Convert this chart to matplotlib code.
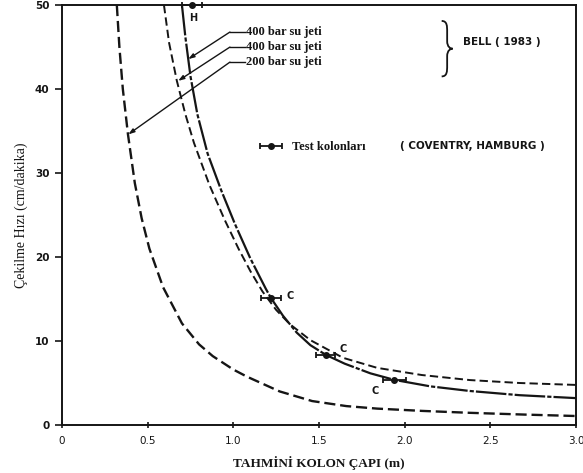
import matplotlib
matplotlib.use("Agg")
import matplotlib.pyplot as plt
from matplotlib.path import Path
from matplotlib.patches import PathPatch

plt.rcParams['lines.scale_dashes'] = False

# ---- data ----
# 400 bar su jeti (solid / dash-dot curve, through the test columns)
c1_x = [0.70, 0.72, 0.75, 0.79, 0.85, 0.93, 1.01, 1.10, 1.19, 1.22, 1.29, 1.37,
        1.45, 1.54, 1.65, 1.80, 1.94, 2.15, 2.38, 2.67, 3.00]
c1_y = [50.0, 46.2, 41.5, 37.0, 32.3, 27.9, 23.9, 19.8, 16.2, 15.1, 13.0, 11.0,
        9.5, 8.35, 7.3, 6.15, 5.37, 4.6, 4.05, 3.55, 3.2]
# 400 bar su jeti (dashed curve)
c2_x = [0.595, 0.625, 0.67, 0.72, 0.77, 0.86, 0.95, 1.03, 1.10, 1.17, 1.25, 1.33,
        1.45, 1.64, 1.84, 2.10, 2.38, 2.67, 3.00]
c2_y = [50.0, 45.5, 41.0, 37.0, 33.6, 28.6, 24.4, 21.0, 18.3, 15.9, 13.7, 12.0,
        10.1, 8.0, 6.8, 5.95, 5.35, 5.0, 4.77]
# 200 bar su jeti (long dashed curve)
c3_x = [0.32, 0.335, 0.355, 0.385, 0.425, 0.465, 0.51, 0.59, 0.70, 0.80, 0.88,
        1.00, 1.08, 1.27, 1.46, 1.66, 1.84, 2.10, 2.38, 2.70, 3.00]
c3_y = [50.0, 45.0, 40.0, 34.6, 28.8, 24.6, 21.0, 16.4, 12.1, 9.6, 8.2,
        6.6, 5.75, 4.0, 2.85, 2.25, 1.95, 1.68, 1.45, 1.24, 1.07]

series_labels = ["400 bar su jeti", "400 bar su jeti", "200 bar su jeti"]

# test columns (Coventry "C", Hamburg "H")
test_x = [1.22, 1.54, 1.94]
test_y = [15.1, 8.35, 5.37]
test_xerr = [0.058, 0.055, 0.068]
test_tags = ["C", "C", "C"]
ham_x = [0.76]
ham_y = [50.0]
ham_xerr = [0.057]
ham_tags = ["H"]

xticks = [0, 0.5, 1.0, 1.5, 2.0, 2.5, 3.0]
xticklabels = ["0", "0.5", "1.0", "1.5", "2.0", "2.5", "3.0"]
yticks = [0, 10, 20, 30, 40, 50]
yticklabels = ["0", "10", "20", "30", "40", "50"]

xlabel = "TAHMİNİ KOLON ÇAPI (m)"
ylabel = "Çekilme Hızı (cm/dakika)"
legend_text = "Test kolonları"
source_text = "( COVENTRY, HAMBURG )"
bell_text = "BELL ( 1983 )"

# ---- figure ----
fig = plt.figure(figsize=(5.83, 4.73), dpi=100)
ax = fig.add_axes([62/583, 48/473, 514/583, 420/473])
ax.set_xlim(0, 3.0)
ax.set_ylim(0, 50)

ink = '#151515'
serif = 'Liberation Serif'
sans = 'DejaVu Sans'

ax.plot(c1_x, c1_y, color=ink, lw=1.6, dashes=(22, 1.5, 3, 1.5))
ax.plot(c2_x, c2_y, color=ink, lw=1.4, dashes=(6, 3))
ax.plot(c3_x, c3_y, color=ink, lw=1.7, dashes=(8, 3.5))

ax.errorbar(test_x, test_y, xerr=test_xerr, fmt='o', color=ink, ms=4,
            elinewidth=1.3, capsize=2.5, capthick=1.3)
ax.errorbar(ham_x, ham_y, xerr=ham_xerr, fmt='o', color=ink, ms=4,
            elinewidth=1.3, capsize=2.5, capthick=1.3, clip_on=False)

tag_offsets = [(0.11, 0.2), (0.10, 0.75), (-0.115, -1.3)]
for x, y, t, (dx, dy) in zip(test_x, test_y, test_tags, tag_offsets):
    ax.text(x + dx, y + dy, t, fontsize=7, fontweight='bold', family=sans,
            ha='center', va='center', color=ink)
for x, y, t in zip(ham_x, ham_y, ham_tags):
    ax.text(x + 0.005, y - 1.6, t, fontsize=7, fontweight='bold', family=sans,
            ha='center', va='center', color=ink)

# series labels with leader lines
label_y = [46.78, 44.99, 43.2]
tip_x = [0.737, 0.678, 0.387]
tip_y = [43.56, 40.97, 34.6]
for lab, ly, tx, ty in zip(series_labels, label_y, tip_x, tip_y):
    ax.text(1.073, ly, lab, fontsize=9, fontweight='bold', family=serif,
            ha='left', va='center', color=ink)
    ax.plot([0.98, 1.067], [ly, ly], color=ink, lw=1.0)
    ax.annotate('', xy=(tx, ty), xytext=(0.98, ly),
                arrowprops=dict(arrowstyle='-|>,head_length=0.35,head_width=0.12',
                                color=ink, lw=1.0, shrinkA=0, shrinkB=0))

# brace
bx, btop, bbot, bw = 2.216, 48.1, 41.5, 0.064
bmid = (btop + bbot) / 2
xm = bx + bw * 0.5
verts = [(bx, btop), (xm, btop), (xm, btop - 0.6), (xm, btop - 1.3),
         (xm, bmid + 0.9),
         (xm, bmid + 0.2), (bx + bw * 0.8, bmid), (bx + bw, bmid),
         (bx + bw * 0.8, bmid), (xm, bmid - 0.2), (xm, bmid - 0.9),
         (xm, bbot + 1.3),
         (xm, bbot + 0.6), (xm, bbot), (bx, bbot)]
codes = [Path.MOVETO, Path.CURVE4, Path.CURVE4, Path.CURVE4,
         Path.LINETO,
         Path.CURVE4, Path.CURVE4, Path.CURVE4,
         Path.CURVE4, Path.CURVE4, Path.CURVE4,
         Path.LINETO,
         Path.CURVE4, Path.CURVE4, Path.CURVE4]
ax.add_patch(PathPatch(Path(verts, codes), fill=False, lw=1.3, color=ink))
ax.text(2.338, 45.6, bell_text, fontsize=7.5, fontweight='bold', family=sans,
        ha='left', va='center', color=ink)

# legend for test columns
ax.errorbar([1.22], [33.2], xerr=[0.065], fmt='o', color=ink, ms=4,
            elinewidth=1.3, capsize=2.5, capthick=1.3)
ax.text(1.34, 33.1, legend_text, fontsize=9, fontweight='bold', family=serif,
        ha='left', va='center', color=ink)
ax.text(1.97, 33.2, source_text, fontsize=7.5, fontweight='bold', family=sans,
        ha='left', va='center', color=ink)

# axes styling
for s in ax.spines.values():
    s.set_linewidth(1.4)
    s.set_color(ink)
ax.set_xticks(xticks)
ax.set_xticklabels(xticklabels, family=sans, fontsize=7.5, color=ink)
ax.set_yticks(yticks)
ax.set_yticklabels(yticklabels, family=sans, fontsize=7.5, color=ink, fontweight='bold')
ax.tick_params(axis='y', direction='out', length=5, width=1.2, pad=4, color=ink)
ax.tick_params(axis='x', direction='inout', length=4, width=1.2, pad=6, color=ink)

ax.set_xlabel(xlabel, family=serif, fontweight='bold', fontsize=9.5, color=ink, labelpad=7)
ax.set_ylabel(ylabel, family=serif, fontsize=10, color=ink, labelpad=5)

fig.savefig("out.png", dpi=100)
